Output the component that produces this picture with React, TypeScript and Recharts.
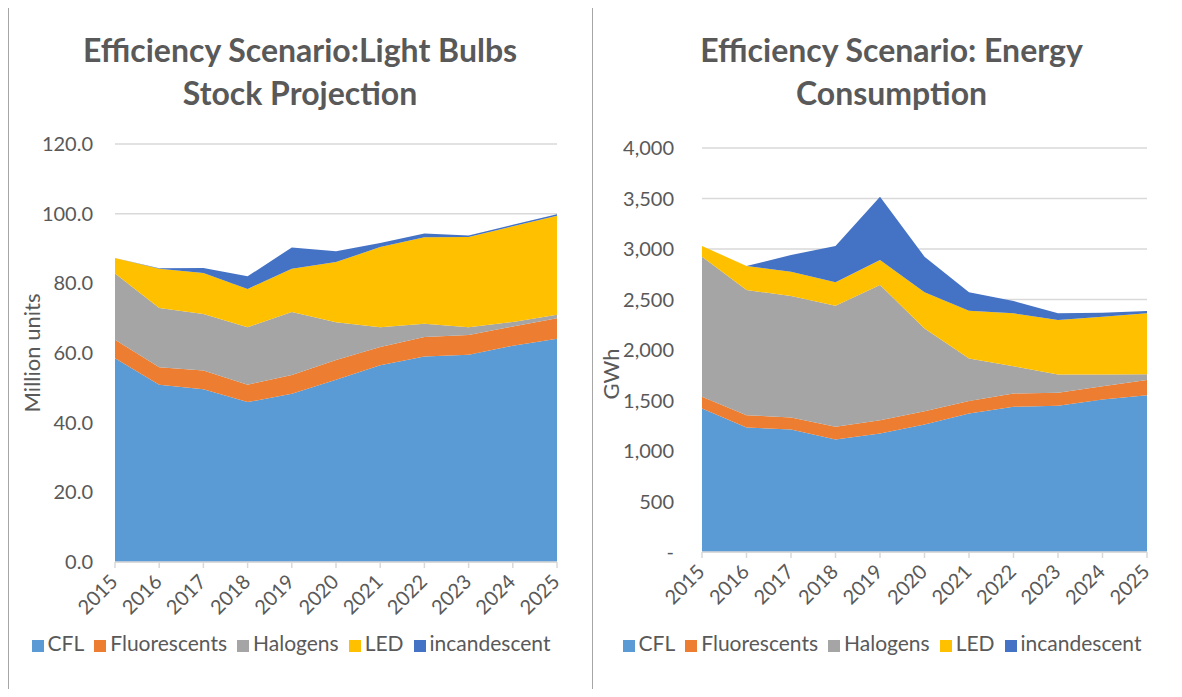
import { Area, AreaChart, CartesianGrid, Legend, XAxis, YAxis } from "recharts";

const years = ["2015", "2016", "2017", "2018", "2019", "2020", "2021", "2022", "2023", "2024", "2025"];

// stock projection, million units
const stockCFL = [58.5, 50.9, 49.6, 45.9, 48.3, 52.3, 56.5, 59.0, 59.5, 62.1, 64.1];
const stockFluor = [5.3, 5.0, 5.4, 5.0, 5.4, 5.7, 5.2, 5.6, 5.7, 5.5, 5.9];
const stockHalogen = [19.0, 17.0, 16.2, 16.5, 18.1, 10.8, 5.7, 3.8, 2.2, 1.3, 1.0];
const stockLED = [4.5, 11.3, 11.8, 11.0, 12.4, 17.3, 23.0, 24.8, 25.9, 27.5, 28.4];
const stockInc = [0, 0.1, 1.4, 3.6, 6.1, 3.1, 1.2, 1.1, 0.4, 0.4, 0.4];

// energy consumption, GWh
const energyCFL = [1421, 1233, 1213, 1114, 1173, 1263, 1372, 1437, 1447, 1510, 1553];
const energyFluor = [115, 122, 119, 125, 132, 131, 122, 133, 129, 132, 149];
const energyHalogen = [1388, 1239, 1202, 1199, 1338, 820, 423, 270, 182, 116, 59];
const energyLED = [106, 238, 241, 232, 248, 357, 472, 523, 538, 571, 602];
const energyInc = [0, 0, 166, 360, 627, 353, 182, 122, 67, 40, 23];

const stockTicks = [0, 20, 40, 60, 80, 100, 120];
const energyTicks = [0, 500, 1000, 1500, 2000, 2500, 3000, 3500, 4000];

const series = [
  { key: "CFL", color: "#5B9BD5" },
  { key: "Fluorescents", color: "#ED7D31" },
  { key: "Halogens", color: "#A5A5A5" },
  { key: "LED", color: "#FFC000" },
  { key: "incandescent", color: "#4472C4" },
];

const stockData = years.map((year, i) => ({
  year,
  CFL: stockCFL[i],
  Fluorescents: stockFluor[i],
  Halogens: stockHalogen[i],
  LED: stockLED[i],
  incandescent: stockInc[i],
}));

const energyData = years.map((year, i) => ({
  year,
  CFL: energyCFL[i],
  Fluorescents: energyFluor[i],
  Halogens: energyHalogen[i],
  LED: energyLED[i],
  incandescent: energyInc[i],
}));

const FONT = "Lato, 'Open Sans', sans-serif";
const GREY = "#595959";

const YearTick = ({ x, y, payload }: any) => (
  <text
    x={x + 4}
    y={y + 13}
    transform={`rotate(-45 ${x + 4} ${y + 13})`}
    textAnchor="end"
    fill={GREY}
    fontSize={20}
    fontFamily={FONT}
  >
    {payload.value}
  </text>
);

const legendText = (value: string) => <span style={{ color: GREY }}>{value}</span>;

function StackedPanel({
  data,
  width,
  top,
  plotH,
  yWidth,
  domainMax,
  ticks,
  fmt,
  label,
  labelDx,
  labelDy,
  tickMargin,
}: any) {
  return (
    <AreaChart
      width={width}
      height={697}
      data={data}
      margin={{ top, right: 35, bottom: 697 - top - plotH - 80, left: 0 }}
    >
      <CartesianGrid vertical={false} stroke="#d9d9d9" strokeWidth={1.5} />
      <XAxis
        dataKey="year"
        height={80}
        interval={0}
        tick={<YearTick />}
        tickSize={6}
        axisLine={{ stroke: "#d9d9d9", strokeWidth: 1.5 }}
        tickLine={{ stroke: "#d9d9d9", strokeWidth: 1.5 }}
      />
      <YAxis
        width={yWidth}
        domain={[0, domainMax]}
        ticks={ticks}
        interval={0}
        axisLine={false}
        tickLine={false}
        tickMargin={tickMargin}
        tickFormatter={fmt}
        tick={{ fill: GREY, fontSize: 20, fontFamily: FONT }}
        label={{
          value: label,
          angle: -90,
          position: "center",
          dx: labelDx,
          dy: labelDy,
          fill: GREY,
          fontSize: 22,
          fontFamily: FONT,
        }}
      />
      <Legend
        layout="horizontal"
        verticalAlign="middle"
        align="center"
        iconType="square"
        iconSize={12}
        formatter={legendText}
        wrapperStyle={{ top: 630, left: 0, width, fontSize: 21, fontFamily: FONT }}
      />
      {series.map((s) => (
        <Area
          key={s.key}
          type="linear"
          dataKey={s.key}
          stackId="1"
          stroke="none"
          fill={s.color}
          fillOpacity={1}
          isAnimationActive={false}
        />
      ))}
    </AreaChart>
  );
}

const titleStyle: any = {
  position: "absolute",
  top: 28,
  textAlign: "center",
  fontFamily: FONT,
  fontWeight: 700,
  fontSize: 32,
  lineHeight: "43px",
  color: GREY,
};

export default function App() {
  return (
    <div style={{ position: "relative", width: 1182, height: 697, margin: -8, background: "#fff", overflow: "hidden" }}>
      <div style={{ position: "absolute", left: 8, top: 6, width: 1174, height: 1, background: "#a6a6a6" }} />
      <div style={{ position: "absolute", left: 8, top: 6, width: 1, height: 691, background: "#a6a6a6" }} />
      <div style={{ position: "absolute", left: 592, top: 6, width: 1, height: 691, background: "#a6a6a6" }} />

      <div style={{ ...titleStyle, left: 8, width: 584 }}>
        Efficiency Scenario:Light Bulbs
        <br />
        Stock Projection
      </div>
      <div style={{ ...titleStyle, left: 597, width: 589 }}>
        Efficiency Scenario: Energy
        <br />
        Consumption
      </div>

      <div style={{ position: "absolute", left: 0, top: 0 }}>
        <StackedPanel
          data={stockData}
          width={592}
          top={144}
          plotH={418}
          yWidth={115}
          domainMax={120}
          ticks={stockTicks}
          fmt={(v: number) => v.toFixed(1)}
          label="Million units"
          labelDx={-25}
          labelDy={0}
          tickMargin={16}
        />
      </div>
      <div style={{ position: "absolute", left: 592, top: 0 }}>
        <StackedPanel
          data={energyData}
          width={590}
          top={148}
          plotH={404}
          yWidth={110}
          domainMax={4000}
          ticks={energyTicks}
          fmt={(v: number) => (v === 0 ? "-   " : v.toLocaleString("en-US"))}
          label="GWh"
          labelDx={-36}
          labelDy={24}
          tickMargin={22}
        />
      </div>
    </div>
  );
}
